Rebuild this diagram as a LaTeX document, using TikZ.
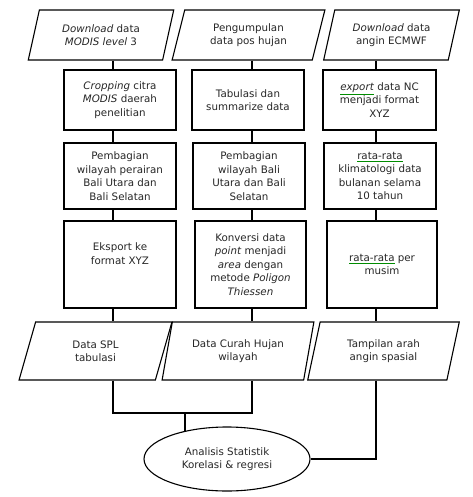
\documentclass[tikz,border=0pt]{standalone}
\usepackage{fontspec}
\setmainfont{DejaVu Sans}
\usepackage{xcolor}
\usetikzlibrary{shapes.geometric,calc}
\newcommand{\spellmark}[1]{\textcolor{green!55!black}{\underline{\textcolor{black!85}{#1}}}}

\begin{document}
\begin{tikzpicture}[x=1pt,y=-1pt,line width=1.1pt,
  font=\fontsize{10.3}{13.5}\selectfont,
  datain/.style={draw,trapezium,trapezium stretches=true,trapezium left angle=73,trapezium right angle=107,align=center,text=black!85,inner sep=1pt},
  dataout/.style={datain,trapezium left angle=74,trapezium right angle=106},
  proc/.style={draw,rectangle,align=center,text=black!85,inner sep=1pt,minimum width=112}]
\useasboundingbox (0,0) rectangle (472,497);
% input data
\node[datain,minimum width=146,minimum height=50] (in1) at (101,35) {\textit{Download} data\\\textit{MODIS level} 3};
\node[datain,minimum width=153,minimum height=50] (in2) at (248.5,35) {Pengumpulan\\data pos hujan};
\node[datain,minimum width=137,minimum height=50] (in3) at (391.5,35) {\textit{Download} data\\angin ECMWF};
% processing
\node[proc,minimum height=60] (pa1) at (120,100) {\textit{Cropping} citra\\\textit{MODIS} daerah\\penelitian};
\node[proc,minimum height=60] (pa2) at (248,100) {Tabulasi dan\\summarize data};
\node[proc,minimum height=60,minimum width=113] (pa3) at (379.5,100) {\spellmark{\textit{export}} data NC\\menjadi format\\XYZ};
\node[proc,minimum height=66] (pb1) at (120,176) {Pembagian\\wilayah perairan\\Bali Utara dan\\Bali Selatan};
\node[proc,minimum height=66] (pb2) at (249,176) {Pembagian\\wilayah Bali\\Utara dan Bali\\Selatan};
\node[proc,minimum height=66] (pb3) at (380,176) {\spellmark{rata-rata}\\klimatologi data\\bulanan selama\\10 tahun};
\node[proc,minimum height=87] (pc1) at (120,264.5) {Eksport ke\\format XYZ\\[8pt]};
\node[proc,minimum height=87,minimum width=111] (pc2) at (250.5,264.5) {Konversi data\\\textit{point} menjadi\\\textit{area} dengan\\metode \textit{Poligon}\\\textit{Thiessen}};
\node[proc,minimum height=87,minimum width=110] (pc3) at (382,264.5) {\spellmark{rata-rata} per\\musim};
% output data
\node[dataout,minimum width=153,minimum height=58] (out1) at (95.5,351) {Data SPL\\tabulasi};
\node[dataout,minimum width=152,minimum height=58] (out2) at (238,351) {Data Curah Hujan\\wilayah};
\node[dataout,minimum width=153,minimum height=58] (out3) at (383.5,351) {Tampilan arah\\angin spasial};
\node[draw,ellipse,minimum width=166,minimum height=64,align=center,text=black!85,inner sep=0pt] (stat) at (227,459) {Analisis Statistik\\Korelasi \& regresi};
% connectors
\coordinate (col1) at (113,0);
\coordinate (col2) at (252,0);
\coordinate (col3) at (376,0);
\coordinate (join) at (185,413);
\draw (in1.south -| col1) -- (pa1.north -| col1);
\draw (pa1.south -| col1) -- (pb1.north -| col1);
\draw (pb1.south -| col1) -- (pc1.north -| col1);
\draw (pc1.south -| col1) -- (out1.north -| col1);
\draw (in2.south -| col2) -- (pa2.north -| col2);
\draw (pa2.south -| col2) -- (pb2.north -| col2);
\draw (pb2.south -| col2) -- (pc2.north -| col2);
\draw (pc2.south -| col2) -- (out2.north -| col2);
\draw (in3.south -| col3) -- (pa3.north -| col3);
\draw (pa3.south -| col3) -- (pb3.north -| col3);
\draw (pb3.south -| col3) -- (pc3.north -| col3);
\draw (pc3.south -| col3) -- (out3.north -| col3);
\draw (out1.south -| col1) |- (join) -| (out2.south -| col2);
\draw (join) -- (join |- stat.146);
\draw (out3.south -| col3) |- (stat.east);
\end{tikzpicture}
\end{document}
